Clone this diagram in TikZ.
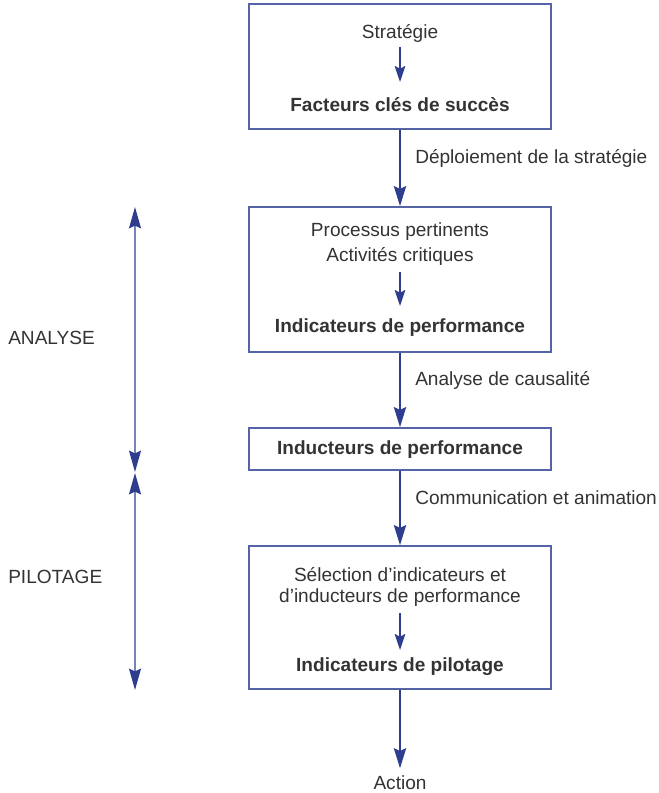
\documentclass[tikz,border=0pt]{standalone}
\usepackage{fontspec}
\setmainfont{Liberation Sans}
\usetikzlibrary{arrows.meta}
\definecolor{boxblue}{HTML}{5564A6}
\definecolor{arrblue}{HTML}{2F3D8E}
\definecolor{lineblue}{HTML}{7585B8}
\definecolor{txt}{HTML}{333333}
\tikzset{
  box/.style={draw=boxblue, line width=1.1pt, minimum width=226.5pt, inner sep=0pt},
  lbl/.style={text=txt, font=\fontsize{14.3}{16}\selectfont, inner sep=0pt},
  blbl/.style={text=txt, font=\fontsize{14.3}{16}\selectfont\bfseries, inner sep=0pt},
  mainarrow/.style={draw=arrblue, line width=2.2pt, -{Stealth[length=15pt,width=9pt,inset=2pt]}},
  inarrow/.style={draw=arrblue, line width=1.1pt, -{Stealth[length=12pt,width=8pt,inset=2pt]}},
  sidearrow/.style={draw=lineblue, line width=1.2pt, {Stealth[length=16pt,width=9pt,inset=2pt,color=arrblue]}-{Stealth[length=16pt,width=9pt,inset=2pt,color=arrblue]}}
}
\begin{document}
\begin{tikzpicture}[x=0.75pt,y=-0.75pt]
\useasboundingbox (0,0) rectangle (659,793);
% boxes
\node[box, minimum height=93.75pt] (b1) at (400,66.5) {};
\node[box, minimum height=108.75pt] (b2) at (400,279.5) {};
\node[box, minimum height=31.5pt] (b3) at (400,449) {};
\node[box, minimum height=107.25pt] (b4) at (400,617.5) {};
% texts box1
\node[lbl] (strat) at (400,33) {Stratégie};
\node[blbl] (fcs) at (400,105) {Facteurs clés de succès};
\draw[inarrow] (strat.south) ++(0,5) coordinate (s1) -- (400,82) coordinate (s2);
% box2
\node[lbl] (pp) at (400,232) {Processus pertinents};
\node[lbl] (ac) at (400,256) {Activités critiques};
\node[blbl] (ip) at (400,328) {Indicateurs de performance};
\draw[inarrow] (400,272) coordinate (p1) -- (400,306) coordinate (p2);
% box3
\node[blbl] (indp) at (400,450) {Inducteurs de performance};
% box4
\node[lbl] (sel1) at (400,575) {Sélection d’indicateurs et};
\node[lbl] (sel2) at (400,598) {d’inducteurs de performance};
\node[blbl] (ipil) at (400,667) {Indicateurs de pilotage};
\draw[inarrow] (400,613) coordinate (q1) -- (400,650) coordinate (q2);
% action
\node[lbl] (act) at (400,783) {Action};
% main arrows
\draw[mainarrow] (b1.south) -- (b2.north);
\draw[mainarrow] (b2.south) -- (b3.north);
\draw[mainarrow] (b3.south) -- (b4.north);
\draw[mainarrow, shorten >=5.5pt] (b4.south) -- (act.north);
% arrow labels
\node[lbl, anchor=west] (l1) at (415,158) {Déploiement de la stratégie};
\node[lbl, anchor=west] (l2) at (415,380) {Analyse de causalité};
\node[lbl, anchor=west] (l3) at (415,498) {Communication et animation};
% side arrows
\coordinate (a1) at (135,207);
\coordinate (a2) at (135,472);
\coordinate (a3) at (135,473);
\coordinate (a4) at (135,690);
\draw[sidearrow] (a1) -- (a2);
\draw[sidearrow] (a3) -- (a4);
\node[lbl, anchor=west] (an) at (8,338) {ANALYSE};
\node[lbl, anchor=west] (pi) at (8,577) {PILOTAGE};
\end{tikzpicture}
\end{document}
